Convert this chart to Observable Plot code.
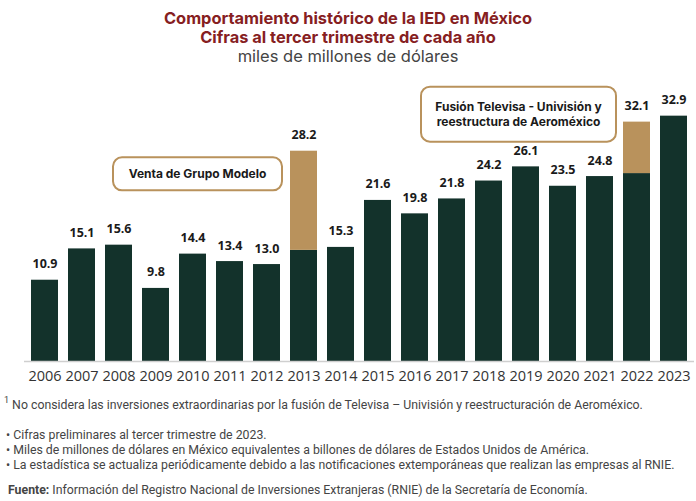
<!DOCTYPE html>
<html><head><meta charset="utf-8">
<script src="https://cdn.jsdelivr.net/npm/d3@7"></script>
<script src="https://cdn.jsdelivr.net/npm/@observablehq/plot@0.6"></script>
<style>
body{margin:0;background:#fff;}
#wrap{position:relative;width:696px;height:501px;overflow:hidden;font-family:"Open Sans",sans-serif;background:#fff;}
.ttl{position:absolute;left:0;width:696px;text-align:center;line-height:19px;white-space:nowrap;font-family:Inter,"Open Sans",sans-serif;}
.red{color:#86201f;font-weight:700;font-size:16.4px;}
.sub{color:#444;font-size:16.5px;}
#chart{position:absolute;left:0;top:68px;}
.fn{position:absolute;white-space:nowrap;font-family:"Roboto",sans-serif;font-size:12.3px;line-height:15px;color:#444;}
.fn sup{font-size:9px;vertical-align:6px;line-height:0;}
</style></head>
<body><div id="wrap">
<div class="ttl red" style="top:9px">Comportamiento histórico de la IED en México</div>
<div class="ttl red" style="top:28px">Cifras al tercer trimestre de cada año</div>
<div class="ttl sub" style="top:47px">miles de millones de dólares</div>
<div id="chart"></div>
<div class="fn" style="left:4px;top:398px"><sup>1</sup> No considera las inversiones extraordinarias por la fusión de Televisa – Univisión y reestructuración de Aeroméxico.</div>
<div class="fn" style="left:6px;top:428px">• Cifras preliminares al tercer trimestre de 2023.</div>
<div class="fn" style="left:6px;top:443px">• Miles de millones de dólares en México equivalentes a billones de dólares de Estados Unidos de América.</div>
<div class="fn" style="left:6px;top:458px">• La estadística se actualiza periódicamente debido a las notificaciones extemporáneas que realizan las empresas al RNIE.</div>
<div class="fn" style="left:8px;top:483px"><b>Fuente:</b> Información del Registro Nacional de Inversiones Extranjeras (RNIE) de la Secretaría de Economía.</div>
</div>
<script>
const years = ["2006","2007","2008","2009","2010","2011","2012","2013","2014","2015","2016","2017","2018","2019","2020","2021","2022","2023"];
const totals = [10.9,15.1,15.6,9.8,14.4,13.4,13.0,28.2,15.3,21.6,19.8,21.8,24.2,26.1,23.5,24.8,32.1,32.9];
const extraordinary = [0,0,0,0,0,0,0,13.3,0,0,0,0,0,0,0,0,6.9,0];
const annotationYears = ["2010","2019"];
const annotationValues = [25.1,33.1];
const annotationLines = [["Venta de Grupo Modelo"],["Fusión Televisa - Univisión y","reestructura de Aeroméxico"]];

const GREEN = "#13322b", GOLD = "#b9925c";
const rows = years.map((yr,i)=>({year:yr,total:totals[i],extra:extraordinary[i],base:+(totals[i]-extraordinary[i]).toFixed(1)}));
const extraRows = rows.filter(d=>d.extra>0);
const annotations = annotationYears.map((yr,i)=>({year:yr,value:annotationValues[i],lines:annotationLines[i]}));
const boxStyle = [{dx:5,w:169,h:33},{dx:-7,w:195,h:55}];

function annotationMark(index, scales){
  const g = d3.create("svg:g");
  const bw = scales.x.bandwidth ? scales.x.bandwidth() : 0;
  annotations.forEach((a,i)=>{
    const s = boxStyle[i];
    const cx = scales.x(a.year) + bw/2 + s.dx;
    const cy = scales.y(a.value);
    g.append("rect").attr("x",cx-s.w/2).attr("y",cy-s.h/2).attr("width",s.w).attr("height",s.h)
      .attr("rx",9).attr("fill","#fff").attr("stroke",GOLD).attr("stroke-width",2);
    const n = a.lines.length, lh = 15;
    a.lines.forEach((t,j)=>{
      g.append("text").attr("x",cx).attr("y",cy + (j-(n-1)/2)*lh).attr("dy","0.35em")
        .attr("text-anchor","middle").attr("font-size",12).attr("font-weight",700)
        .attr("fill","#1a1a1a").attr("font-family","Inter,'Open Sans',sans-serif").text(t);
    });
  });
  return g.node();
}

const chart = Plot.plot({
  width: 696, height: 325,
  marginLeft: 24, marginRight: 2, marginTop: 32, marginBottom: 32,
  style: {fontFamily: "'Open Sans',sans-serif", background: "transparent"},
  x: {domain: years, paddingInner: 0.28, paddingOuter: 0.1, label: null, tickSize: 0, tickPadding: 9},
  y: {domain: [0, 35], axis: null},
  marks: [
    Plot.barY(rows, {x: "year", y1: 0, y2: "base", fill: GREEN}),
    Plot.barY(extraRows, {x: "year", y1: "base", y2: "total", fill: GOLD}),
    Plot.ruleY([0], {stroke: "#cfcfcf", strokeWidth: 1.5}),
    Plot.text(rows, {x: "year", y: "total", text: d => d3.format(".1f")(d.total), dy: -16, fontSize: 12.5, fontWeight: 700, fill: "#1a1a1a"}),
    annotationMark
  ]
});
const ax = chart.querySelector("g[aria-label='x-axis tick label']");
if (ax) { ax.setAttribute("font-size","14.5"); ax.setAttribute("fill","#333"); }
document.getElementById("chart").appendChild(chart);
</script>
</body></html>
